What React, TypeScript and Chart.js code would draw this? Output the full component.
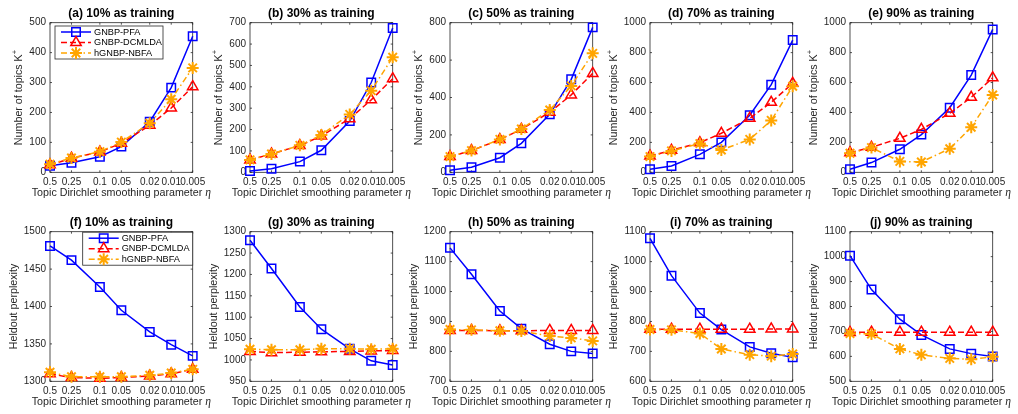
import React, { useEffect, useRef } from 'react';
import { Chart, registerables } from 'chart.js';

Chart.register(...registerables);

// ---------------- data ----------------
const etaValues = [0.5, 0.25, 0.1, 0.05, 0.02, 0.01, 0.005];
const etaLabels = ['0.5', '0.25', '0.1', '0.05', '0.02', '0.01', '0.005'];
const seriesNames = ['GNBP-PFA', 'GNBP-DCMLDA', 'hGNBP-NBFA'];

// Number of topics K+
const kPFA10 = [22, 32, 52, 86, 169, 283, 455];
const kDCM10 = [25, 47, 68, 97, 157, 215, 286];
const kNBFA10 = [27, 48, 69, 101, 164, 244, 349];
const kPFA30 = [6, 17, 50, 103, 240, 420, 675];
const kDCM30 = [58, 86, 125, 170, 251, 339, 438];
const kNBFA30 = [58, 86, 126, 175, 271, 382, 538];
const kPFA50 = [11, 27, 78, 155, 310, 497, 775];
const kDCM50 = [84, 116, 175, 230, 321, 414, 529];
const kNBFA50 = [84, 116, 176, 232, 333, 462, 636];
const kPFA70 = [20, 42, 120, 200, 381, 586, 884];
const kDCM70 = [109, 147, 198, 261, 361, 468, 595];
const kNBFA70 = [105, 143, 192, 149, 220, 347, 575];
const kPFA90 = [20, 65, 154, 252, 432, 650, 955];
const kDCM90 = [131, 167, 227, 287, 394, 501, 632];
const kNBFA90 = [127, 165, 73, 69, 158, 301, 517];

// Heldout perplexity
const pPFA10 = [1481, 1462, 1426, 1395, 1366, 1349, 1334];
const pDCM10 = [1310, 1305, 1304, 1305, 1307, 1310, 1316];
const pNBFA10 = [1312, 1306, 1306, 1306, 1308, 1311, 1316];
const pPFA30 = [1280, 1214, 1124, 1072, 1026, 998, 988];
const pDCM30 = [1020, 1017, 1018, 1019, 1020, 1021, 1022];
const pNBFA30 = [1025, 1024, 1024, 1026, 1026, 1025, 1026];
const pPFA50 = [1146, 1058, 935, 876, 824, 800, 793];
const pDCM50 = [870, 870, 869, 869, 870, 870, 870];
const pNBFA50 = [873, 872, 869, 868, 851, 845, 835];
const pPFA70 = [1078, 953, 828, 773, 715, 694, 680];
const pDCM70 = [774, 774, 774, 774, 774, 775, 775];
const pNBFA70 = [773, 772, 760, 708, 689, 684, 691];
const pPFA90 = [1004, 868, 749, 686, 630, 611, 599];
const pDCM90 = [696, 697, 697, 697, 697, 697, 697];
const pNBFA90 = [692, 690, 630, 606, 592, 588, 598];

const panelTitles = [
  '(a) 10% as training', '(b) 30% as training', '(c) 50% as training', '(d) 70% as training', '(e) 90% as training',
  '(f) 10% as training', '(g) 30% as training', '(h) 50% as training', '(i) 70% as training', '(j) 90% as training',
];

// ---------------- styles ----------------
const FONT = '"Liberation Sans", Arial, Helvetica, sans-serif';
const AXIS = '#262626';
const BLUE = '#0000ff';
const RED = '#ff0000';
const ORANGE = '#ffa500';
const CW = 220;
const CH = 207;

type PanelDef = {
  title: string;
  pfa: number[];
  dcm: number[];
  nbfa: number[];
  yMin: number;
  yMax: number;
  yStep: number;
  row: number;
  col: number;
  legend: '' | 'nw' | 'ne';
};

const panels: PanelDef[] = [
  { title: panelTitles[0], pfa: kPFA10, dcm: kDCM10, nbfa: kNBFA10, yMin: 0, yMax: 500, yStep: 100, row: 0, col: 0, legend: 'nw' },
  { title: panelTitles[1], pfa: kPFA30, dcm: kDCM30, nbfa: kNBFA30, yMin: 0, yMax: 700, yStep: 100, row: 0, col: 1, legend: '' },
  { title: panelTitles[2], pfa: kPFA50, dcm: kDCM50, nbfa: kNBFA50, yMin: 0, yMax: 800, yStep: 200, row: 0, col: 2, legend: '' },
  { title: panelTitles[3], pfa: kPFA70, dcm: kDCM70, nbfa: kNBFA70, yMin: 0, yMax: 1000, yStep: 200, row: 0, col: 3, legend: '' },
  { title: panelTitles[4], pfa: kPFA90, dcm: kDCM90, nbfa: kNBFA90, yMin: 0, yMax: 1000, yStep: 200, row: 0, col: 4, legend: '' },
  { title: panelTitles[5], pfa: pPFA10, dcm: pDCM10, nbfa: pNBFA10, yMin: 1300, yMax: 1500, yStep: 50, row: 1, col: 0, legend: 'ne' },
  { title: panelTitles[6], pfa: pPFA30, dcm: pDCM30, nbfa: pNBFA30, yMin: 950, yMax: 1300, yStep: 50, row: 1, col: 1, legend: '' },
  { title: panelTitles[7], pfa: pPFA50, dcm: pDCM50, nbfa: pNBFA50, yMin: 700, yMax: 1200, yStep: 100, row: 1, col: 2, legend: '' },
  { title: panelTitles[8], pfa: pPFA70, dcm: pDCM70, nbfa: pNBFA70, yMin: 600, yMax: 1100, yStep: 100, row: 1, col: 3, legend: '' },
  { title: panelTitles[9], pfa: pPFA90, dcm: pDCM90, nbfa: pNBFA90, yMin: 500, yMax: 1100, yStep: 100, row: 1, col: 4, legend: '' },
];

function labelFor(v: number): string {
  const i = etaValues.findIndex((e) => Math.abs(e - v) < 1e-9);
  return i >= 0 ? etaLabels[i] : '';
}

function drawMarker(ctx: CanvasRenderingContext2D, style: string, x: number, y: number, r: number, color: string, lw: number) {
  ctx.save();
  ctx.strokeStyle = color;
  ctx.lineWidth = lw;
  ctx.setLineDash([]);
  ctx.beginPath();
  if (style === 'rect') {
    const s = r * Math.SQRT1_2;
    ctx.rect(x - s, y - s, 2 * s, 2 * s);
  } else if (style === 'triangle') {
    for (let k = 0; k < 3; k++) {
      const a = (k * 2 * Math.PI) / 3;
      const px = x + Math.sin(a) * r;
      const py = y - Math.cos(a) * r;
      if (k === 0) ctx.moveTo(px, py);
      else ctx.lineTo(px, py);
    }
    ctx.closePath();
  } else {
    for (let k = 0; k < 4; k++) {
      const a = (k * Math.PI) / 4;
      ctx.moveTo(x - Math.cos(a) * r, y - Math.sin(a) * r);
      ctx.lineTo(x + Math.cos(a) * r, y + Math.sin(a) * r);
    }
  }
  ctx.stroke();
  ctx.restore();
}

const decorPlugin = {
  id: 'panelDecor',
  beforeDatasetsDraw(chart: any) {
    const { ctx, chartArea: a } = chart;
    const xs = chart.scales.x;
    const ys = chart.scales.y;
    const TL = 2;
    ctx.save();
    ctx.strokeStyle = AXIS;
    ctx.lineWidth = 0.8;
    ctx.strokeRect(a.left, a.top, a.right - a.left, a.bottom - a.top);
    ctx.beginPath();
    xs.ticks.forEach((t: any) => {
      const p = xs.getPixelForValue(t.value);
      ctx.moveTo(p, a.bottom);
      ctx.lineTo(p, a.bottom - TL);
      ctx.moveTo(p, a.top);
      ctx.lineTo(p, a.top + TL);
    });
    ys.ticks.forEach((t: any) => {
      const p = ys.getPixelForValue(t.value);
      ctx.moveTo(a.left, p);
      ctx.lineTo(a.left + TL, p);
      ctx.moveTo(a.right, p);
      ctx.lineTo(a.right - TL, p);
    });
    ctx.stroke();
    ctx.restore();
  },
  afterDraw(chart: any, _args: any, opts: any) {
    const { ctx, chartArea: a } = chart;
    const cx = (a.left + a.right) / 2;
    ctx.save();
    // title
    ctx.fillStyle = '#000';
    ctx.font = `bold 12px ${FONT}`;
    ctx.textAlign = 'center';
    ctx.textBaseline = 'middle';
    ctx.fillText(opts.title, cx, a.top - 9);

    // x axis title
    ctx.fillStyle = AXIS;
    const main = 'Topic Dirichlet smoothing parameter ';
    ctx.font = `10.7px ${FONT}`;
    const wMain = ctx.measureText(main).width;
    ctx.font = `italic 11.5px "Liberation Serif", "DejaVu Serif", serif`;
    const wEta = ctx.measureText('η').width;
    const sx = cx - (wMain + wEta) / 2;
    ctx.textAlign = 'left';
    ctx.font = `10.7px ${FONT}`;
    ctx.fillText(main, sx, a.bottom + 21);
    ctx.font = `italic 11.5px "Liberation Serif", "DejaVu Serif", serif`;
    ctx.fillText('η', sx + wMain, a.bottom + 21);

    // y axis title
    ctx.save();
    ctx.translate(a.left - opts.yOff, (a.top + a.bottom) / 2);
    ctx.rotate(-Math.PI / 2);
    ctx.font = `10.7px ${FONT}`;
    const yMain = opts.yTitle;
    const wy = ctx.measureText(yMain).width;
    ctx.font = `7.5px ${FONT}`;
    const wsup = opts.ySup ? ctx.measureText(opts.ySup).width : 0;
    const sy = -(wy + wsup) / 2;
    ctx.font = `10.7px ${FONT}`;
    ctx.fillText(yMain, sy, 0);
    if (opts.ySup) {
      ctx.font = `7.5px ${FONT}`;
      ctx.fillText(opts.ySup, sy + wy, -4);
    }
    ctx.restore();

    // legend
    if (opts.legend) {
      const w = opts.legend === 'nw' ? 108 : 110;
      const h = 33;
      const left = opts.legend === 'nw' ? a.left + 5 : a.right - w;
      const top = opts.legend === 'nw' ? a.top + 3.3 : a.top + 0.5;
      ctx.fillStyle = '#fff';
      ctx.fillRect(left, top, w, h);
      ctx.strokeStyle = AXIS;
      ctx.lineWidth = 0.8;
      ctx.strokeRect(left, top, w, h);
      chart.data.datasets.forEach((ds: any, i: number) => {
        const y = top + 6 + i * 10.5;
        ctx.save();
        ctx.strokeStyle = ds.borderColor;
        ctx.lineWidth = ds.borderWidth;
        ctx.setLineDash(ds.borderDash || []);
        ctx.beginPath();
        ctx.moveTo(left + 6, y);
        ctx.lineTo(left + 36, y);
        ctx.stroke();
        ctx.restore();
        drawMarker(ctx, ds.pointStyle, left + 21, y, ds.pointRadius, ds.borderColor, ds.pointBorderWidth);
        ctx.fillStyle = '#000';
        ctx.font = `9.2px ${FONT}`;
        ctx.textAlign = 'left';
        ctx.textBaseline = 'middle';
        ctx.fillText(ds.label, left + 39, y);
      });
    }
    ctx.restore();
  },
};

function makeDataset(label: string, values: number[], color: string, dash: number[], style: string, radius: number, pw: number, order: number) {
  return {
    label,
    data: etaValues.map((x, i) => ({ x, y: values[i] })),
    borderColor: color,
    backgroundColor: color,
    borderWidth: 1.5,
    borderDash: dash,
    pointStyle: style,
    pointRadius: radius,
    pointBorderWidth: pw,
    pointBorderColor: color,
    pointBackgroundColor: 'rgba(0,0,0,0)',
    tension: 0,
    fill: false,
    clip: false,
    order,
  };
}

function Panel({ def }: { def: PanelDef }) {
  const ref = useRef<HTMLCanvasElement>(null);
  useEffect(() => {
    if (!ref.current) return;
    const isTop = def.row === 0;
    const tickFont = { family: FONT, size: 10 };
    const chart = new Chart(ref.current, {
      type: 'line',
      data: {
        datasets: [
          makeDataset(seriesNames[0], def.pfa, BLUE, [], 'rect', 6, 1.5, 2),
          makeDataset(seriesNames[1], def.dcm, RED, [6, 3], 'triangle', 6, 1.5, 1),
          makeDataset(seriesNames[2], def.nbfa, ORANGE, [6, 3, 1.5, 3], 'star', 6, 2, 0),
        ] as any,
      },
      options: {
        responsive: false,
        animation: false,
        events: [],
        layout: { padding: { top: isTop ? 22.7 : 24.7, right: CW - 192.7, left: 0, bottom: 0 } },
        plugins: {
          legend: { display: false },
          tooltip: { enabled: false },
          title: { display: false },
          panelDecor: {
            title: def.title,
            yTitle: isTop ? 'Number of topics K' : 'Heldout perplexity',
            ySup: isTop ? '+' : '',
            yOff: def.yMax >= 1000 ? 36 : 31,
            legend: def.legend,
          },
        } as any,
        scales: {
          x: {
            type: 'logarithmic',
            reverse: true,
            min: 0.005,
            max: 0.5,
            grid: { display: false, drawTicks: false },
            border: { display: false },
            ticks: {
              autoSkip: false,
              maxRotation: 0,
              minRotation: 0,
              padding: 4,
              color: AXIS,
              font: tickFont,
              callback: (v: any) => labelFor(Number(v)),
            },
            afterBuildTicks: (s: any) => {
              s.ticks = etaValues.map((v) => ({ value: v }));
            },
            afterFit: (s: any) => {
              s.height = isTop ? CH - 172.3 : CH - 174.3;
              s.paddingLeft = 0;
              s.paddingRight = 0;
              s.paddingTop = 0;
              s.paddingBottom = 0;
            },
          },
          y: {
            type: 'linear',
            min: def.yMin,
            max: def.yMax,
            grid: { display: false, drawTicks: false },
            border: { display: false },
            ticks: {
              stepSize: def.yStep,
              padding: 4,
              color: AXIS,
              font: tickFont,
              callback: (v: any) => String(v),
            },
            afterFit: (s: any) => {
              s.width = 50;
              s.paddingLeft = 0;
              s.paddingRight = 0;
              s.paddingTop = 0;
              s.paddingBottom = 0;
            },
          },
        } as any,
      },
      plugins: [decorPlugin as any],
    });
    return () => chart.destroy();
  }, [def]);
  return (
    <canvas
      ref={ref}
      width={CW}
      height={CH}
      style={{ position: 'absolute', left: def.col * 200, top: def.row * CH, width: CW, height: CH }}
    />
  );
}

export default function App() {
  return (
    <div style={{ position: 'absolute', left: 0, top: 0, width: 1018, height: 414, overflow: 'hidden', background: '#fff' }}>
      {panels.map((p, i) => (
        <Panel key={i} def={p} />
      ))}
    </div>
  );
}
